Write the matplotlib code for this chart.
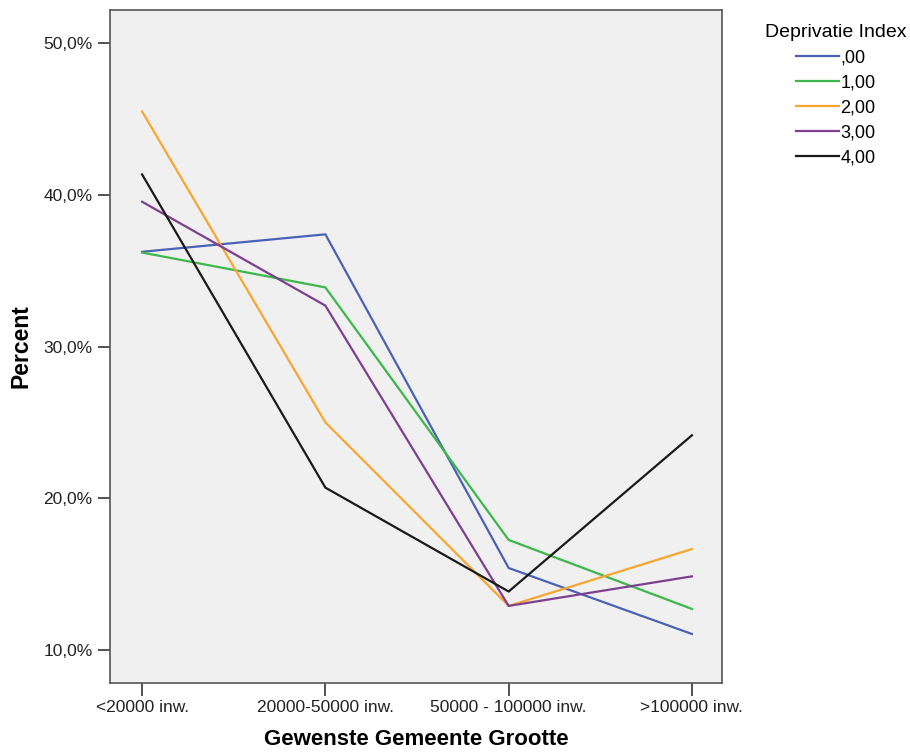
import matplotlib
matplotlib.use("Agg")
import matplotlib.pyplot as plt
from matplotlib.ticker import FuncFormatter

plt.rcParams["font.family"] = ["Liberation Sans", "DejaVu Sans"]

categories = ["<20000 inw.", "20000-50000 inw.", "50000 - 100000 inw.", ">100000 inw."]
series_names = [",00", "1,00", "2,00", "3,00", "4,00"]
series_colors = ["#4A62B6", "#3CB84A", "#F9A630", "#7E3F90", "#1A1A1A"]

idx_00 = [36.25, 37.4, 15.4, 11.05]
idx_10 = [36.2, 33.9, 17.25, 12.7]
idx_20 = [45.5, 25.0, 12.9, 16.65]
idx_30 = [39.55, 32.7, 12.9, 14.85]
idx_40 = [41.35, 20.7, 13.85, 24.15]
series = [idx_00, idx_10, idx_20, idx_30, idx_40]


def main():
    fig = plt.figure(figsize=(9.1, 7.53), dpi=100)
    ax = fig.add_axes([0.1209, 0.093, 0.6725, 0.8937])
    ax.set_facecolor("#F0F0F0")

    x = list(range(len(categories)))
    for name, vals, col in zip(series_names, series, series_colors):
        ax.plot(x, vals, color=col, lw=1.6, label=name)

    ax.set_xlim(-0.175, 3.164)
    ax.set_ylim(7.82, 52.19)
    ax.set_xticks(x)
    ax.set_xticklabels(categories)
    ax.set_yticks([10, 20, 30, 40, 50])
    ax.yaxis.set_major_formatter(FuncFormatter(lambda v, p: f"{v:.1f}%".replace(".", ",")))
    ax.tick_params(direction="out", length=9, width=1.2, color="#333333",
                   labelsize=12.5, labelcolor="#222222", pad=3.5)
    for s in ax.spines.values():
        s.set_color("#555555")
        s.set_linewidth(1.2)

    ax.set_xlabel("Gewenste Gemeente Grootte", fontsize=16, fontweight="bold")
    ax.set_ylabel("Percent", fontsize=16.5, fontweight="bold")
    # put the axis titles where the reference has them
    ax.xaxis.set_label_coords(0.5, -0.068)
    ax.yaxis.set_label_coords(-0.126, 0.5)

    fig.legend(loc="upper left", bbox_to_anchor=(0.8407, 0.968), frameon=False,
               borderpad=0, borderaxespad=0,
               title="Deprivatie Index", fontsize=13, title_fontsize=14,
               handlelength=2.4, handletextpad=0.05, labelspacing=0.45)

    fig.savefig("out.png", dpi=100)
    return 0


if __name__ == "__main__":
    raise SystemExit(main())
